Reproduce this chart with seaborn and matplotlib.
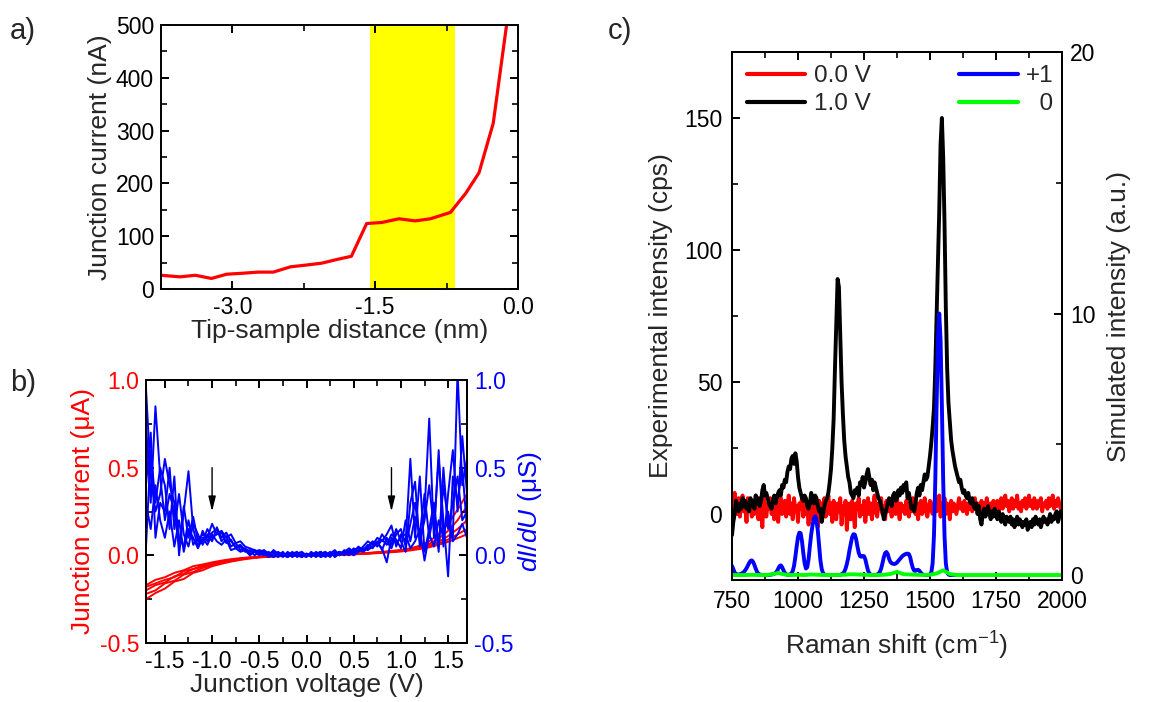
import numpy as np
import matplotlib
matplotlib.use("Agg")
import matplotlib.pyplot as plt
import seaborn as sns
from matplotlib.ticker import MultipleLocator, FormatStrFormatter

# ---------------- data ----------------
# (a) junction current vs tip-sample distance
dist_nm = [-3.75, -3.55, -3.39, -3.22, -3.06, -2.88, -2.73, -2.57, -2.39, -2.24,
           -2.06, -1.90, -1.75, -1.59, -1.43, -1.25, -1.08, -0.92, -0.71, -0.55,
           -0.41, -0.26, -0.12]
current_nA = [26, 23, 26, 20, 28, 30, 32, 32, 42, 45,
              49, 56, 62, 124, 126, 133, 129, 133, 145, 181,
              220, 314, 500]
band_nm = [-1.55, -0.66]

# (b) I-V and dI/dU curves
volt_iv = np.round(np.arange(-1.7, 1.7001, 0.1), 2)
iv_1 = [-0.25, -0.215, -0.19, -0.15, -0.135, -0.10, -0.085, -0.062, -0.048, -0.036, -0.026, -0.018,
        -0.012, -0.008, -0.005, -0.003, -0.001, 0.0, 0.001, 0.002, 0.004, 0.006, 0.009, 0.012,
        0.016, 0.02, 0.025, 0.031, 0.04, 0.055, 0.08, 0.12, 0.18, 0.26, 0.35]
iv_2 = [-0.22, -0.20, -0.16, -0.145, -0.11, -0.095, -0.072, -0.056, -0.043, -0.032, -0.023, -0.016,
        -0.011, -0.007, -0.004, -0.002, -0.001, 0.0, 0.001, 0.002, 0.003, 0.005, 0.008, 0.011,
        0.014, 0.018, 0.022, 0.028, 0.036, 0.048, 0.066, 0.095, 0.14, 0.2, 0.28]
iv_3 = [-0.20, -0.17, -0.155, -0.12, -0.105, -0.078, -0.066, -0.05, -0.038, -0.028, -0.02, -0.014,
        -0.009, -0.006, -0.004, -0.002, -0.001, 0.0, 0.001, 0.002, 0.003, 0.005, 0.007, 0.01,
        0.013, 0.017, 0.021, 0.026, 0.033, 0.043, 0.057, 0.078, 0.11, 0.15, 0.20]
iv_4 = [-0.18, -0.16, -0.14, -0.125, -0.09, -0.078, -0.058, -0.046, -0.035, -0.026, -0.019, -0.013,
        -0.009, -0.006, -0.003, -0.002, -0.001, 0.0, 0.001, 0.002, 0.003, 0.004, 0.006, 0.009,
        0.012, 0.016, 0.02, 0.025, 0.031, 0.04, 0.052, 0.068, 0.09, 0.12, 0.15]
iv_5 = [-0.17, -0.14, -0.125, -0.10, -0.085, -0.062, -0.052, -0.04, -0.03, -0.022, -0.016, -0.011,
        -0.007, -0.005, -0.003, -0.002, -0.001, 0.0, 0.001, 0.002, 0.003, 0.004, 0.006, 0.008,
        0.011, 0.014, 0.018, 0.022, 0.028, 0.036, 0.046, 0.06, 0.077, 0.098, 0.12]

volt_didv = np.round(np.arange(-1.7, 1.7001, 0.05), 2)
didv_1 = [0.75, 0.30, 0.85, 0.45, 0.20, 0.35, 0.25, 0.05, 0.28, 0.10, 0.22, 0.08, 0.12, 0.10, 0.18,
          0.12, 0.14, 0.10, 0.12, 0.07, 0.08, 0.05, 0.04, 0.03, 0.02, 0.03, 0.01, 0.02, 0.00, 0.02,
          -0.01, 0.01, 0.02, -0.01, 0.01, -0.01, 0.02, 0.00, 0.01, -0.01, 0.02, 0.00, 0.03, 0.01,
          0.04, 0.02, 0.05, 0.08, 0.06, 0.10, 0.08, 0.12, 0.17, 0.05, 0.12, 0.08, 0.55, 0.10, 0.45,
          0.02, 0.15, 0.30, 0.05, 0.40, 0.20, 0.10, 1.05, 0.40, 0.55]
didv_2 = [0.05, 0.60, 0.30, 0.50, 0.40, 0.15, 0.45, 0.00, 0.25, 0.48, 0.15, 0.05, 0.14, 0.08, 0.13,
          0.15, 0.08, 0.11, 0.05, 0.07, 0.03, 0.04, 0.02, 0.03, 0.01, 0.00, 0.02, -0.01, 0.02, 0.00,
          0.01, -0.01, 0.01, 0.00, -0.01, 0.02, 0.00, 0.02, -0.01, 0.01, 0.03, 0.00, 0.02, 0.04,
          0.02, 0.05, 0.03, 0.06, 0.04, 0.08, 0.03, 0.10, 0.06, 0.15, 0.08, 0.02, 0.30, 0.42, 0.05,
          0.25, 0.78, 0.10, 0.60, 0.05, 0.35, 0.60, 0.25, 0.68, 0.35]
didv_3 = [0.95, 0.45, 0.25, 0.35, 0.55, 0.40, 0.30, 0.10, 0.05, 0.20, 0.06, 0.10, 0.08, 0.15, 0.10,
          0.12, 0.13, 0.07, 0.09, 0.04, 0.05, 0.02, 0.03, 0.00, 0.02, 0.01, -0.01, 0.01, -0.01, 0.01,
          0.00, 0.02, -0.01, 0.01, 0.00, 0.01, -0.01, 0.01, 0.02, 0.00, 0.01, 0.02, 0.00, 0.03,
          0.01, 0.03, 0.02, 0.04, 0.07, 0.05, 0.09, 0.06, 0.12, 0.09, 0.04, 0.20, 0.08, 0.22, 0.12,
          0.35, 0.10, 0.25, 0.02, 0.50, 0.15, 0.30, 0.45, 0.20, 0.25]
didv_4 = [0.40, 0.70, 0.10, 0.30, 0.25, 0.50, 0.15, 0.35, 0.12, 0.05, 0.18, 0.12, 0.06, 0.12, 0.08,
          0.16, 0.10, 0.13, 0.08, 0.05, 0.06, 0.03, 0.01, 0.02, 0.03, 0.02, 0.00, 0.03, 0.01, -0.01,
          0.02, 0.00, 0.01, 0.02, 0.00, 0.01, 0.01, -0.01, 0.00, 0.02, -0.01, 0.01, 0.02, 0.00,
          0.03, 0.04, 0.03, 0.05, 0.08, 0.06, 0.12, 0.08, 0.04, 0.12, 0.15, 0.05, 0.18, 0.30, 0.08,
          0.20, 0.40, 0.15, 0.55, 0.20, -0.12, 0.45, 0.30, 0.50, 0.15]
didv_5 = [0.30, 0.15, 0.40, 0.20, 0.10, 0.25, 0.05, 0.20, 0.02, 0.15, 0.10, 0.04, 0.10, 0.06, 0.12,
          0.08, 0.06, 0.09, 0.03, 0.04, 0.02, 0.03, 0.00, 0.02, 0.00, 0.02, 0.01, -0.01, 0.01, 0.00,
          -0.01, 0.01, 0.00, -0.01, 0.01, 0.00, 0.01, 0.02, 0.00, 0.01, 0.00, 0.02, 0.01, 0.02,
          0.00, 0.02, 0.04, 0.03, 0.05, 0.07, 0.04, -0.04, 0.10, 0.07, 0.10, 0.12, 0.04, 0.08, 0.15,
          -0.03, 0.12, 0.05, 0.20, 0.10, 0.25, 0.08, 0.12, 0.18, 0.10]
arrow_volts = [-1.0, 0.9]

# (c) Raman spectra
raman_x = np.arange(750, 2001, 5)
exp_1V = [-8, -3, 0, 5, 3, 1, 4, 2, 6, 3,
          5, 2, 4, 1, 6, 3, 5, 2, 7, 4,
          6, 3, 5, 9, 11, 7, 8, 6, 4, 3,
          2, 5, 7, 4, 6, 8, 9, 7, 11, 10,
          13, 12, 16, 18, 17, 21, 22, 19, 23, 20,
          14, 10, 8, 6, 5, 7, 6, 3, 2, 4,
          8, 6, 4, 7, 6, 3, 1, 2, -3, 0,
          3, 5, 6, 8, 12, 17, 25, 36, 55, 72,
          89, 86, 68, 50, 38, 28, 22, 18, 14, 12,
          8, 7, 6, 9, 8, 10, 7, 12, 11, 14,
          10, 12, 15, 17, 14, 11, 13, 9, 12, 10,
          8, 6, 5, 3, 1, -2, 0, 2, 4, 6,
          5, 3, 7, 8, 5, 6, 9, 7, 10, 8,
          11, 9, 12, 6, 8, 5, 2, 3, 1, 4,
          8, 10, 7, 11, 9, 12, 15, 13, 14, 18,
          22, 27, 33, 40, 55, 75, 95, 115, 140, 150,
          135, 110, 78, 55, 42, 35, 28, 24, 21, 18,
          16, 14, 12, 13, 10, 8, 9, 7, 6, 8,
          5, 4, 6, 3, 2, 4, 0, 3, -2, -4,
          0, 2, -1, 1, 3, 0, -2, 1, -1, 2,
          0, -2, 1, -1, -3, 0, -2, -4, -1, -2,
          -3, -1, -4, -2, -5, -3, -1, -4, -2, -3,
          -5, -3, -4, -2, -6, -4, -3, -5, -2, -4,
          -1, -3, -4, -2, -5, -3, -1, -3, -2, -4,
          -2, 0, -3, -1, -2, 0, 1, -3, -1, 1,
          0]
exp_0V = [5, -2, 8, 3, 0, 6, -1, 4, 7, 1,
          3, -3, 6, 2, 5, -1, 4, 0, 7, 2,
          -2, 5, 1, -5, 6, 3, -1, 4, 2, 6,
          0, 3, -2, 5, 1, -3, 4, 6, 0, 2,
          5, -1, 3, 7, 0, 4, -2, 6, 1, 3,
          -3, 4, 2, 6, -1, 5, 0, 3, -4, 4,
          2, -2, 6, 1, 3, -5, 5, 0, 4, 2,
          6, -1, 3, 7, 0, 4, -3, 5, 2, -2,
          4, 1, 6, -4, 3, 0, 5, -6, 2, 4,
          -2, 5, 1, -5, 4, 2, 6, -1, 3, 0,
          5, -3, 2, 6, 0, 4, -2, 3, 7, 1,
          -1, 4, 2, 6, 0, 3, -2, 5, 1, 4,
          2, -1, 5, 3, 0, 6, 2, -2, 4, 1,
          3, 0, 5, 2, -1, 4, 1, 6, 2, 0,
          4, -2, 3, 5, 0, 2, 6, 1, -1, 3,
          5, 2, 0, 4, 6, 1, 3, 7, -1, 4,
          2, 6, 0, 4, 3, -2, 5, 1, 4, 2,
          0, 3, 6, 2, 4, 1, 5, 3, 0, 4,
          2, 5, 1, 3, 6, 2, 4, 0, 3, 5,
          1, 4, 2, 6, 3, 0, 4, 2, 5, 3,
          2, 5, 1, 3, 6, 2, 4, 7, 3, 5,
          1, 4, 6, 2, 5, 3, 7, 2, 4, 1,
          5, 3, 6, 2, 4, 7, 3, 5, 2, 6,
          4, 2, 5, 3, 6, 1, 4, 3, 5, 2,
          6, 3, 4, 7, 2, 5, 3, 6, 4, 2,
          3]
sim_x = np.arange(750, 1601, 5)
sim_plus1 = [0.35, 0.22, 0.10, 0.04, 0.02, 0.02, 0.03, 0.05, 0.08, 0.12,
             0.18, 0.26, 0.36, 0.46, 0.54, 0.56, 0.50, 0.38, 0.24, 0.12,
             0.05, 0.02, 0.01, 0.0, 0.0, 0.0, 0.0, 0.0, 0.0, 0.01,
             0.02, 0.03, 0.05, 0.08, 0.14, 0.24, 0.34, 0.37, 0.30, 0.18,
             0.08, 0.03, 0.01, 0.01, 0.02, 0.06, 0.15, 0.35, 0.70, 1.10,
             1.45, 1.62, 1.60, 1.30, 0.85, 0.45, 0.25, 0.30, 0.60, 1.10,
             1.55, 1.90, 2.15, 2.25, 2.10, 1.70, 1.10, 0.55, 0.22, 0.07,
             0.02, 0.0, 0.0, 0.0, 0.0, 0.0, 0.0, 0.0, 0.0, 0.0,
             0.0, 0.0, 0.01, 0.03, 0.06, 0.12, 0.24, 0.42, 0.65, 0.95,
             1.20, 1.45, 1.56, 1.55, 1.38, 1.10, 0.85, 0.72, 0.70, 0.73,
             0.72, 0.60, 0.38, 0.18, 0.06, 0.02, 0.0, 0.0, 0.0, 0.0,
             0.02, 0.05, 0.12, 0.25, 0.45, 0.68, 0.84, 0.88, 0.80, 0.62,
             0.50, 0.45, 0.43, 0.42, 0.44, 0.48, 0.54, 0.60, 0.66, 0.72,
             0.76, 0.79, 0.81, 0.82, 0.80, 0.68, 0.45, 0.27, 0.17, 0.16,
             0.19, 0.20, 0.16, 0.09, 0.04, 0.01, 0.0, 0.0, 0.0, 0.0,
             0.02, 0.10, 0.45, 1.50, 3.60, 6.50, 9.00, 10.0, 9.00, 6.50,
             3.60, 1.50, 0.45, 0.10, 0.02, 0.0, 0.0, 0.0, 0.0, 0.0,
             0.0]
sim_zero_x = np.arange(750, 2001, 25)
sim_zero = [0.0, 0.0, 0.0, 0.01, 0.0, 0.0, 0.02, 0.08, 0.02, 0.0,
            0.01, 0.0, 0.02, 0.01, 0.0, 0.0, 0.0, 0.01, 0.03, 0.02,
            0.01, 0.0, 0.0, 0.01, 0.04, 0.12, 0.03, 0.02, 0.01, 0.0,
            0.01, 0.06, 0.18, 0.04, 0.0, 0.0, 0.0, 0.0, 0.0, 0.0,
            0.0, 0.0, 0.0, 0.0, 0.0, 0.0, 0.0, 0.0, 0.0, 0.0,
            0.0]

# ---------------- style ----------------
sns.set_style("ticks")
plt.rcParams.update({
    "font.family": ["Liberation Sans", "DejaVu Sans"],
    "axes.unicode_minus": False,
    "mathtext.fontset": "custom",
    "mathtext.rm": "Liberation Sans",
    "mathtext.it": "Liberation Sans:italic",
    "mathtext.bf": "Liberation Sans:bold",
    "axes.linewidth": 1.4,
    "axes.edgecolor": "black",
    "xtick.direction": "in",
    "ytick.direction": "in",
    "xtick.major.width": 1.4,
    "ytick.major.width": 1.4,
    "xtick.minor.width": 1.2,
    "ytick.minor.width": 1.2,
    "xtick.major.size": 6,
    "ytick.major.size": 6,
    "xtick.minor.size": 4,
    "ytick.minor.size": 4,
    "xtick.color": "black",
    "ytick.color": "black",
})

W, H = 1165, 702
fig = plt.figure(figsize=(W / 100, H / 100), dpi=100)


def box(l, t, r, b):
    return [l / W, 1 - b / H, (r - l) / W, (b - t) / H]


TICK = 16.5
LAB = 19
LEG = 17.5

# ---------------- panel a ----------------
ax_a = fig.add_axes(box(161, 25, 518, 289))
ax_a.axvspan(band_nm[0], band_nm[1], color="#ffff00", lw=0, zorder=0)
sns.lineplot(x=dist_nm, y=current_nA, ax=ax_a, color="#ff0000", lw=2.3,
             estimator=None, sort=False)
ax_a.set_xlim(-3.75, 0)
ax_a.set_ylim(0, 500)
ax_a.xaxis.set_major_locator(MultipleLocator(1.5))
ax_a.xaxis.set_minor_locator(MultipleLocator(0.75))
ax_a.xaxis.set_major_formatter(FormatStrFormatter("%.1f"))
ax_a.yaxis.set_major_locator(MultipleLocator(100))
ax_a.yaxis.set_minor_locator(MultipleLocator(50))
ax_a.tick_params(which="both", top=True, right=True, labelsize=TICK, pad=5)
ax_a.set_xlabel("Tip-sample distance (nm)", fontsize=LAB, labelpad=0)
ax_a.set_ylabel("Junction current (nA)", fontsize=LAB, labelpad=3)

# ---------------- panel b ----------------
ax_b = fig.add_axes(box(146, 380, 467, 643))
ax_b2 = ax_b.twinx()
for iv in [iv_1, iv_2, iv_3, iv_4, iv_5]:
    sns.lineplot(x=volt_iv, y=iv, ax=ax_b, color="#ff0000", lw=1.4,
                 estimator=None, sort=False)
for dd in [didv_1, didv_2, didv_3, didv_4, didv_5]:
    sns.lineplot(x=volt_didv, y=dd, ax=ax_b2, color="#0000ff", lw=1.4,
                 estimator=None, sort=False)
for v in arrow_volts:
    ax_b2.annotate("", xy=(v, 0.25), xytext=(v, 0.5),
                   arrowprops=dict(arrowstyle="-|>,head_length=0.9,head_width=0.22",
                                   color="black", lw=1.0, shrinkA=0, shrinkB=0))
for ax in (ax_b, ax_b2):
    ax.set_xlim(-1.7, 1.7)
    ax.set_ylim(-0.5, 1.0)
    ax.yaxis.set_major_locator(MultipleLocator(0.5))
    ax.yaxis.set_minor_locator(MultipleLocator(0.25))
    ax.yaxis.set_major_formatter(FormatStrFormatter("%.1f"))
ax_b.xaxis.set_major_locator(MultipleLocator(0.5))
ax_b.xaxis.set_minor_locator(MultipleLocator(0.25))
ax_b.xaxis.set_major_formatter(FormatStrFormatter("%.1f"))
ax_b.tick_params(which="both", top=True, labelsize=TICK, pad=5)
ax_b.tick_params(axis="y", labelcolor="#ff0000")
ax_b2.tick_params(which="both", labelsize=TICK, pad=5)
ax_b2.tick_params(axis="y", labelcolor="#0000ff")
ax_b.set_xlabel("Junction voltage (V)", fontsize=LAB, labelpad=0)
ax_b.set_ylabel("Junction current (μA)", fontsize=LAB, color="#ff0000", labelpad=3)
ax_b2.set_ylabel(r"$\mathit{dI/dU}$ (μS)", fontsize=LAB, color="#0000ff", labelpad=2)

# ---------------- panel c ----------------
ax_c = fig.add_axes(box(732, 52, 1062, 580))
ax_c2 = ax_c.twinx()
sns.lineplot(x=raman_x, y=exp_0V, ax=ax_c, color="#ff0000", lw=2.8,
             estimator=None, sort=False, label="0.0 V")
sns.lineplot(x=raman_x, y=exp_1V, ax=ax_c, color="black", lw=2.8,
             estimator=None, sort=False, label="1.0 V")
sns.lineplot(x=sim_x, y=sim_plus1, ax=ax_c2, color="#0000ff", lw=2.8,
             estimator=None, sort=False, label="+1")
sns.lineplot(x=sim_zero_x, y=sim_zero, ax=ax_c2, color="#00ff00", lw=2.8,
             estimator=None, sort=False, label="  0")
ax_c.set_xlim(750, 2000)
ax_c.set_ylim(-25, 175)
ax_c2.set_ylim(-0.19, 20)
ax_c.xaxis.set_major_locator(MultipleLocator(250))
ax_c.xaxis.set_minor_locator(MultipleLocator(125))
ax_c.yaxis.set_major_locator(MultipleLocator(50))
ax_c.yaxis.set_minor_locator(MultipleLocator(25))
ax_c2.yaxis.set_major_locator(MultipleLocator(10))
ax_c2.yaxis.set_minor_locator(MultipleLocator(5))
ax_c.tick_params(which="both", top=True, labelsize=TICK, pad=7)
ax_c2.tick_params(which="both", labelsize=TICK, pad=6)
ax_c.set_xlabel("Raman shift (cm$^{-1}$)", fontsize=LAB, labelpad=12)
ax_c.set_ylabel("Experimental intensity (cps)", fontsize=LAB, labelpad=8)
ax_c2.set_ylabel("Simulated intensity (a.u.)", fontsize=LAB, labelpad=8)

leg1 = ax_c.legend(loc="upper left", bbox_to_anchor=(0.045, 0.975), frameon=False,
                   fontsize=LEG, handlelength=2.4, handletextpad=0.35,
                   labelspacing=0.25, borderaxespad=0, borderpad=0)
leg2 = ax_c2.legend(loc="upper right", bbox_to_anchor=(0.975, 0.975), frameon=False,
                    fontsize=LEG, handlelength=2.4, handletextpad=0.35,
                    labelspacing=0.25, borderaxespad=0, borderpad=0)
for lg in (leg1, leg2):
    for ln in lg.get_lines():
        ln.set_linewidth(3.0)

# panel letters
for lbl, (px, py) in {"a)": (10, 31), "b)": (10, 383), "c)": (608, 31)}.items():
    fig.text(px / W, 1 - py / H, lbl, fontsize=21, va="center", ha="left")

fig.savefig("out.png", dpi=100)
